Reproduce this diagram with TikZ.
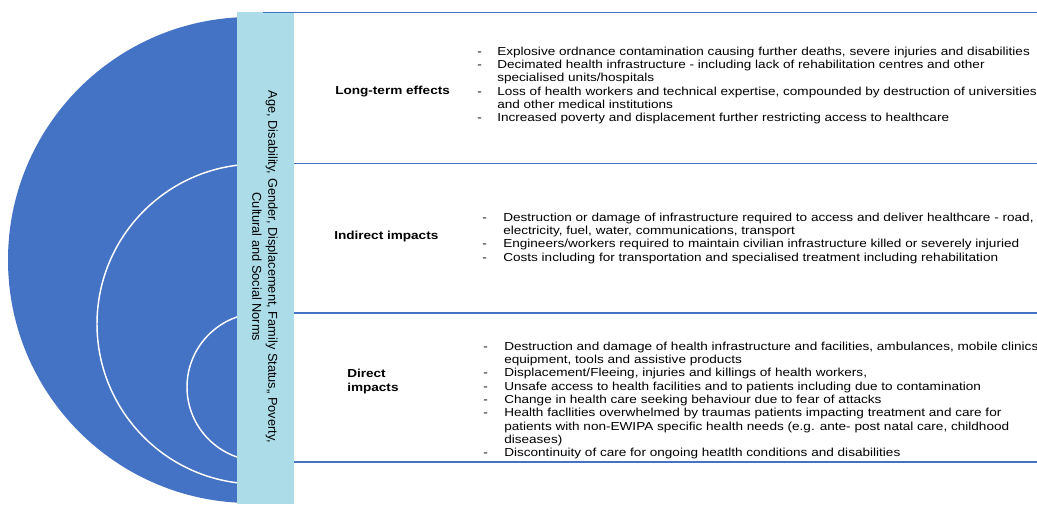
\documentclass[tikz,border=0pt]{standalone}
\usepackage{fontspec}
\setmainfont{Liberation Sans}
\newfontfamily\widefont[FakeStretch=1.17]{Liberation Sans}
\usetikzlibrary{positioning}

\definecolor{ringblue}{RGB}{68,114,196}
\definecolor{barblue}{RGB}{173,220,233}

\begin{document}
\begin{tikzpicture}[
    x=0.75pt, y=-0.75pt,
    ring/.style={draw=white, line width=1.1pt},
    divider/.style={draw=ringblue, line width=1.2pt},
    heading/.style={font=\widefont\fontsize{8.7}{10}\selectfont\bfseries, anchor=base west, inner sep=0pt, align=left},
    effects/.style={font=\widefont\fontsize{8.7}{10}\selectfont, anchor=base west, inner sep=0pt},
    factors/.style={font=\fontsize{9.6}{12}\selectfont, rotate=-90, align=center, inner sep=0pt}
]

% Canvas size of the reference
\useasboundingbox (0,0) rectangle (1037,504);
\clip (0,0) rectangle (1037,504);

% Nested half circles on the left
\begin{scope}
    \clip (0,0) rectangle (238,504);
    \fill[ringblue] (251,260) circle (243);
    \draw[ring] (257,324) circle (160);  % Indirect ring
    \draw[ring] (261,387) circle (74);   % Direct ring
\end{scope}

% Light blue bar with the cross-cutting factors
\node[fill=barblue, minimum width=42.75pt, minimum height=369pt, inner sep=0pt] (bar) at (265.5,258) {};
\node[factors] (factorstxt) at (265,267)
    {Age, Disability, Gender, Displacement, Family Status,, Poverty,\\Cultural and Social Norms};

% Row dividers
\draw[divider] (263,12.5) -- (1037,12.5);
\draw[divider] (294,163.5) -- (1037,163.5);
\draw[divider] (294,313) -- (1037,313);
\draw[divider] (294,462) -- (1037,462);

% Row headings
\node[heading] (longterm) at (335,94) {Long-term effects};
\node[heading] (indirect) at (334,239) {Indirect impacts};
\node[heading] (direct) at (347,391) {Direct\\impacts};  % base = last line

% Long-term effects
\node[effects] (longtxt) at (477,55) {\begin{tabular}[t]{@{}p{15pt}@{}l@{}}
- & Explosive ordnance contamination causing further deaths, severe injuries and disabilities\\
- & Decimated health infrastructure - including lack of rehabilitation centres and other\\
  & specialised units/hospitals\\
- & Loss of health workers and technical expertise, compounded by destruction of universities\\
  & and other medical institutions\\
- & Increased poverty and displacement further restricting access to healthcare
\end{tabular}};

% Indirect impacts
\node[effects] (indirecttxt) at (482,221) {\begin{tabular}[t]{@{}p{15.75pt}@{}l@{}}
- & Destruction or damage of infrastructure required to access and deliver healthcare - road,\\
  & electricity, fuel, water, communications, transport\\
- & Engineers/workers required to maintain civilian infrastructure killed or severely injuried\\
- & Costs including for transportation and specialised treatment including rehabilitation
\end{tabular}};

% Direct impacts
\node[effects] (directtxt) at (483,350) {\begin{tabular}[t]{@{}p{15.75pt}@{}l@{}}
- & Destruction and damage of health infrastructure and facilities, ambulances, mobile clinics\\
  & equipment, tools and assistive products\\
- & Displacement/Fleeing, injuries and killings of health workers,\\
- & Unsafe access to health facilities and to patients including due to contamination\\
- & Change in health care seeking behaviour due to fear of attacks\\
- & Health facllities overwhelmed by traumas patients impacting treatment and care for\\
  & patients with non-EWIPA specific health needs (e.g. ante- post natal care, childhood\\
  & diseases)\\
- & Discontinuity of care for ongoing heatlth conditions and disabilities
\end{tabular}};

\end{tikzpicture}
\end{document}
